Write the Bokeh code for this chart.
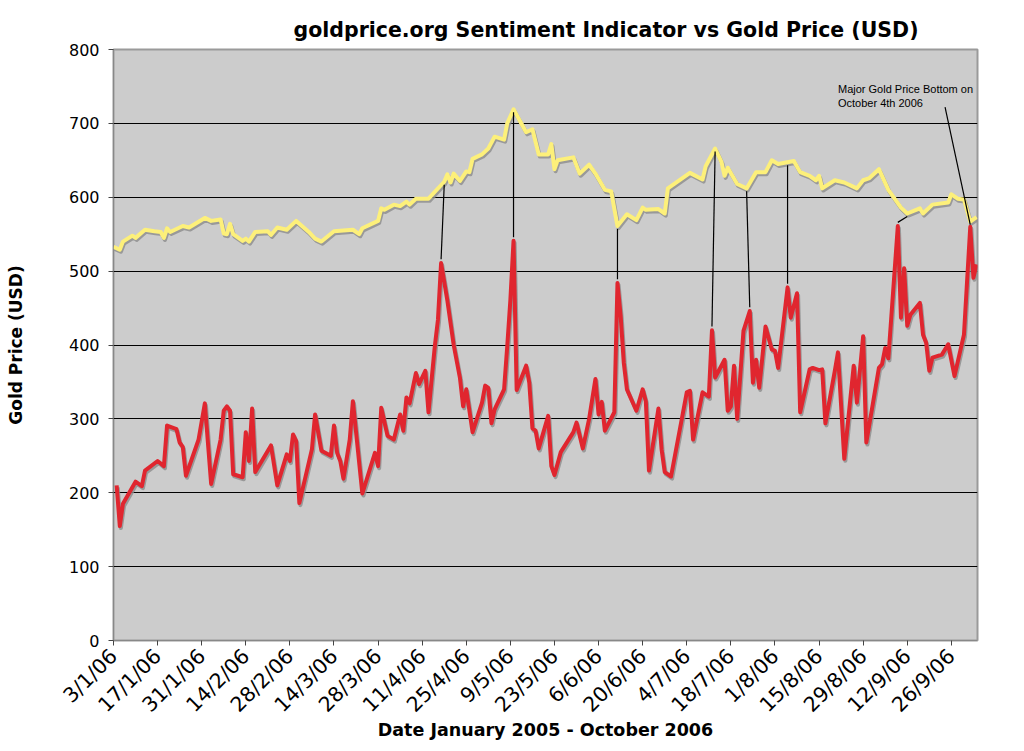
import numpy as np
from datetime import datetime
from bokeh.plotting import figure
from bokeh.models import ColumnDataSource, Range1d, FixedTicker
from bokeh.transform import dodge
from bokeh.core.properties import value
from bokeh.embed import file_html
from bokeh.resources import INLINE

# ---------------- data ----------------
START = datetime(2006, 1, 3)
END_DAYS = 274.3  # axis ends on 4 Oct 2006

title_text = "goldprice.org Sentiment Indicator vs Gold Price (USD)"

tick_labels = ["3/1/06", "17/1/06", "31/1/06", "14/2/06", "28/2/06", "14/3/06",
               "28/3/06", "11/4/06", "25/4/06", "9/5/06", "23/5/06", "6/6/06",
               "20/6/06", "4/7/06", "18/7/06", "1/8/06", "15/8/06", "29/8/06",
               "12/9/06", "26/9/06"]
y_ticks = [0, 100, 200, 300, 400, 500, 600, 700, 800]

# days since 3 Jan 2006
sent_day = [1, 2, 3, 7, 9, 10, 14, 16, 17, 20,
            21, 22, 23, 27, 29, 31, 34, 35, 36, 37,
            38, 41, 42, 43, 44, 45, 50, 52, 55, 56,
            57, 58, 59, 63, 64, 66, 69, 70, 71, 72,
            73, 75, 76, 79, 83, 84, 85, 87, 89, 91,
            92, 93, 94, 96, 97, 99, 100, 102, 103, 104,
            106, 108, 110, 111, 112, 114, 117, 118, 119, 120,
            121, 124, 125, 126, 127, 128, 131, 132, 133, 134,
            135, 138, 139, 140, 142, 146, 147, 149, 151, 153,
            154, 155, 156, 159, 160, 161, 162, 163, 166, 168,
            169, 170, 173, 174, 175, 177, 182, 183, 184, 187,
            189, 190, 191, 194, 195, 196, 197, 198, 200, 202,
            203, 204, 205, 207, 209, 210, 211, 214, 215, 217,
            218, 221, 222, 224, 225, 226, 229, 230, 232, 235,
            236, 238, 239, 243, 244, 245, 246, 249, 250, 251,
            252, 253, 256, 257, 258, 259, 260, 263, 265, 267,
            270, 272, 273, 274]
sent_val = [210, 155, 185, 215, 209, 230, 243, 236, 291, 286,
            268, 262, 223, 272, 321, 212, 272, 311, 317, 311,
            225, 221, 282, 243, 314, 228, 264, 210, 252, 243,
            279, 270, 186, 259, 306, 257, 250, 291, 254, 243,
            219, 272, 324, 199, 254, 236, 315, 277, 272, 306,
            284, 329, 321, 362, 347, 365, 309, 398, 434, 511,
            460, 400, 355, 317, 340, 282, 322, 345, 342, 294,
            313, 340, 398, 461, 541, 339, 372, 349, 287, 284,
            260, 304, 236, 224, 255, 282, 295, 260, 300, 354,
            306, 323, 284, 309, 484, 440, 376, 340, 311, 340,
            324, 230, 314, 259, 228, 222, 336, 338, 272, 336,
            330, 420, 356, 380, 311, 317, 372, 300, 419, 446,
            349, 380, 342, 425, 394, 392, 369, 478, 437, 470,
            309, 367, 369, 366, 367, 294, 365, 390, 246, 372,
            322, 412, 268, 369, 374, 396, 382, 561, 437, 504,
            426, 441, 457, 414, 403, 365, 383, 387, 401, 358,
            414, 560, 491, 509]

gold_day = [0, 2, 3, 6, 7, 10, 13, 15, 16, 17,
            18, 22, 24, 29, 31, 34, 35, 36, 37, 38,
            41, 42, 43, 45, 49, 50, 52, 55, 58, 62,
            64, 66, 70, 76, 78, 79, 84, 85, 86, 89,
            91, 93, 94, 96, 100, 105, 106, 107, 108, 110,
            112, 113, 114, 117, 119, 121, 124, 125, 127, 131,
            133, 135, 138, 139, 140, 141, 146, 148, 151, 153,
            156, 158, 160, 163, 166, 168, 169, 173, 175, 176,
            183, 187, 188, 191, 193, 194, 195, 198, 201, 204,
            207, 209, 211, 216, 218, 221, 223, 224, 225, 229,
            232, 236, 238, 240, 243, 246, 250, 252, 256, 257,
            260, 265, 266, 268, 270, 272, 274]
gold_val = [533, 529, 540, 548, 545, 556, 554, 553, 545, 558,
            553, 561, 559, 572, 568, 570, 551, 550, 564, 550,
            541, 544, 540, 553, 554, 549, 559, 556, 568, 553,
            544, 540, 554, 556, 550, 558, 568, 585, 583, 590,
            588, 594, 590, 598, 598, 621, 631, 620, 632, 622,
            635, 634, 652, 658, 666, 682, 678, 700, 719, 688,
            692, 658, 658, 672, 638, 650, 654, 632, 644, 632,
            610, 608, 561, 577, 569, 586, 583, 584, 578, 612,
            633, 624, 642, 666, 648, 629, 640, 618, 612, 634,
            634, 650, 645, 649, 634, 629, 623, 629, 612, 623,
            620, 612, 623, 626, 638, 610, 586, 578, 585, 578,
            590, 593, 604, 598, 597, 567, 573]

# connector lines: sentiment peak day -> gold price day
link_sent_day = [104, 127, 160, 190, 202, 214, 249]
link_gold_day = [105, 127, 160, 191, 201, 214, 252]

note_text = ["Major Gold Price Bottom on\nOctober 4th 2006"]
note_day, note_val = 230, 755
note_line_from = (264, 722)
note_target_day = 272

# ---------------- figure ----------------
tick_days = [(datetime.strptime(t, "%d/%m/%y") - START).days for t in tick_labels]

p = figure(width=1016, height=743, output_backend="svg", toolbar_location=None,
           x_range=Range1d(0, END_DAYS), y_range=Range1d(0, 800),
           min_border_left=113, min_border_right=39, min_border_top=49,
           min_border_bottom=101)
p.background_fill_color = "#cccccc"
p.border_fill_color = "white"
p.outline_line_color = "#9a9a9a"
p.outline_line_width = 2

p.title.text = title_text
p.title.align = "left"
p.title.offset = 180
p.title.standoff = 12
p.title.vertical_align = "top"
p.title.text_font = "DejaVu Sans"
p.title.text_font_size = "20.5px"
p.title.text_font_style = "bold"
p.title.text_color = "black"

p.xgrid.visible = False
p.ygrid.grid_line_color = "black"
p.ygrid.grid_line_width = 1
p.yaxis.ticker = FixedTicker(ticks=y_ticks)
p.xaxis.ticker = FixedTicker(ticks=tick_days)
p.xaxis.major_label_overrides = {d: t for d, t in zip(tick_days, tick_labels)}
p.xaxis.major_label_orientation = np.pi / 4

for ax in (p.xaxis[0], p.yaxis[0]):
    ax.axis_line_color = "#777777"
    ax.axis_line_dash = "1 1"
    ax.major_tick_line_color = "#444444"
    ax.minor_tick_line_color = None
    ax.major_tick_in = 0
    ax.major_tick_out = 5
    ax.major_label_text_font = "DejaVu Sans"
    ax.major_label_text_color = "black"
    ax.axis_label_text_font = "DejaVu Sans"
    ax.axis_label_text_font_style = "bold"
    ax.axis_label_text_color = "black"

p.yaxis.major_label_text_font_size = "16px"
p.yaxis.major_label_standoff = 9
p.xaxis.major_label_text_font_size = "20.5px"
p.xaxis.major_label_standoff = 7
p.yaxis.axis_label = "Gold Price (USD)"
p.yaxis.axis_label_text_font_size = "17px"
p.yaxis.axis_label_standoff = 40
p.xaxis.axis_label = "Date January 2005 - October 2006"
p.xaxis.axis_label_text_font_size = "17.5px"
p.xaxis.axis_label_standoff = -8

sent_src = ColumnDataSource(dict(d=sent_day, v=sent_val))
gold_src = ColumnDataSource(dict(d=gold_day, v=gold_val))

# drop shadows
for src in (gold_src, sent_src):
    p.line(x=dodge("d", 0.35, range=p.x_range), y=dodge("v", -2.8, range=p.y_range),
           source=src, line_color="#8c8c8c", line_width=4, line_alpha=0.8,
           line_join="round")

p.line("d", "v", source=gold_src, line_color="#fdf07a", line_width=4, line_join="round")
p.line("d", "v", source=sent_src, line_color="#e0262f", line_width=4, line_join="round")

# connectors
y0 = np.interp(link_sent_day, sent_day, sent_val) + 5
y1 = np.interp(link_gold_day, gold_day, gold_val) - 4
p.segment(x0=link_sent_day, y0=list(y0), x1=link_gold_day, y1=list(y1),
          line_color="black", line_width=1.2)

tgt = float(np.interp(note_target_day, gold_day, gold_val)) - 4
p.segment(x0=[note_line_from[0]], y0=[note_line_from[1]], x1=[note_target_day], y1=[tgt],
          line_color="black", line_width=1.2)
p.text(x=[note_day], y=[note_val], text=note_text, text_font=value("Liberation Sans"),
       text_font_size=value("11px"), text_baseline="top", text_align="left",
       text_color="black", text_line_height=1.15)

open("out.html", "w").write(file_html(p, INLINE))
